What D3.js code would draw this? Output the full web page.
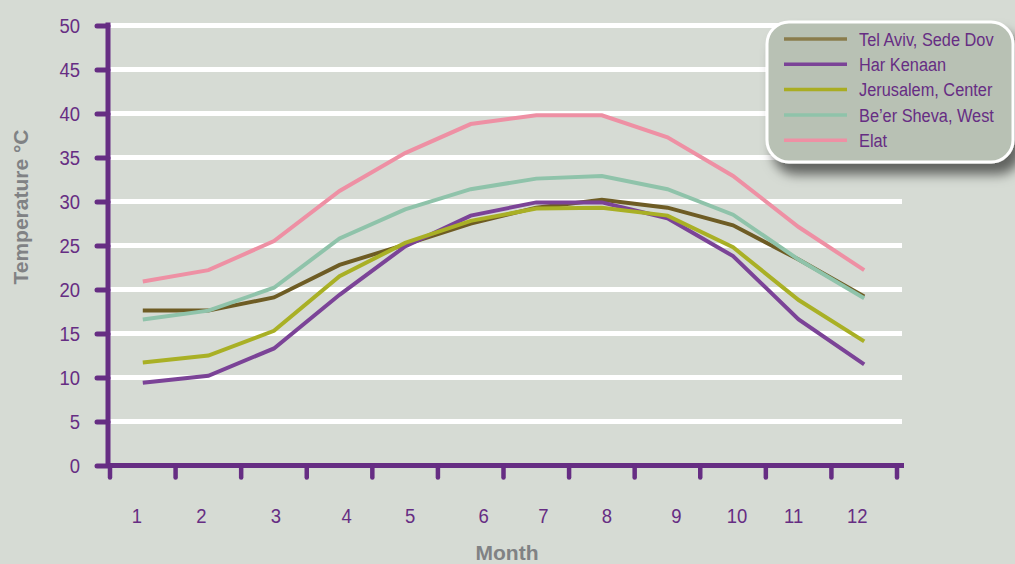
<!DOCTYPE html>
<html>
<head>
<meta charset="utf-8">
<script src="https://cdn.jsdelivr.net/npm/d3@7"></script>
<style>
  html, body { margin: 0; padding: 0; background: #d6dbd4; }
  svg { display: block; }
</style>
</head>
<body>
<svg id="chart" width="1015" height="564"></svg>
<script>
// ---- data ----
const months = [1, 2, 3, 4, 5, 6, 7, 8, 9, 10, 11, 12];
const yTicks = [0, 5, 10, 15, 20, 25, 30, 35, 40, 45, 50];
const seriesNames = ["Tel Aviv, Sede Dov", "Har Kenaan", "Jerusalem, Center", "Be\u2019er Sheva, West", "Elat"];
const telAviv   = [17.6, 17.6, 19.1, 22.8, 25.1, 27.5, 29.3, 30.2, 29.3, 27.3, 23.4, 19.2];
const harKenaan = [9.4, 10.2, 13.3, 19.4, 24.9, 28.4, 29.9, 29.9, 28.1, 23.8, 16.6, 11.5];
const jerusalem = [11.7, 12.5, 15.3, 21.5, 25.3, 27.8, 29.2, 29.3, 28.4, 24.8, 18.8, 14.1];
const beerSheva = [16.6, 17.6, 20.2, 25.8, 29.1, 31.4, 32.6, 32.9, 31.4, 28.5, 23.4, 19.0];
const elat      = [20.9, 22.2, 25.5, 31.2, 35.5, 38.8, 39.8, 39.8, 37.3, 32.9, 27.1, 22.2];
const seriesValues = [telAviv, harKenaan, jerusalem, beerSheva, elat];

// ---- style / layout ----
const colors = ["#6e5c24", "#7b4397", "#a9b025", "#8fc3aa", "#ee90a4"];
const legendColors = ["#8a7c4c", "#7b4397", "#a9ad22", "#8fc3aa", "#ee90a4"];
const purple = "#662d83";
const gray = "#808284";
const labelFont = "'Liberation Sans', Arial, sans-serif";
const titleFont = "'Liberation Sans', Arial, sans-serif";
const squeeze = 0.88; // condensed look of the original labels
const monthLabelNudge = [-6, -7, 2, 7, 5, 13, 7, 5, 9, 4, -5, -7];

const svg = d3.select("#chart");

const x = d3.scaleBand().domain(months).range([110, 897]).padding(0);
const y = d3.scaleLinear().domain([0, 50]).range([465.5, 25.5]);
const cx = m => x(m) + x.bandwidth() / 2;

// shadow filter
const defs = svg.append("defs");
const f = defs.append("filter").attr("id", "shadow")
  .attr("x", "-20%").attr("y", "-20%").attr("width", "150%").attr("height", "160%");
f.append("feDropShadow").attr("dx", 7).attr("dy", 11).attr("stdDeviation", 6)
  .attr("flood-color", "#000").attr("flood-opacity", 0.55);

// grid lines
svg.append("g").selectAll("line")
  .data(yTicks.filter(v => v > 0))
  .join("line")
  .attr("x1", 110).attr("x2", 902)
  .attr("y1", d => y(d)).attr("y2", d => y(d))
  .attr("stroke", "#ffffff").attr("stroke-width", 5);

// series lines
const line = d3.line().x((d, i) => cx(months[i])).y(d => y(d));
svg.append("g").selectAll("path")
  .data(seriesValues)
  .join("path")
  .attr("d", d => line(d))
  .attr("fill", "none")
  .attr("stroke", (d, i) => colors[i])
  .attr("stroke-width", 4)
  .attr("stroke-linejoin", "miter");

// y axis
const yAxis = svg.append("g")
  .attr("transform", "translate(108,0)")
  .call(d3.axisLeft(y).tickValues(yTicks).tickSize(11).tickPadding(17).tickSizeOuter(0));
yAxis.select(".domain").remove();
yAxis.selectAll(".tick line").attr("stroke", purple).attr("stroke-width", 5).attr("stroke-linecap", "round");
yAxis.selectAll(".tick text")
  .attr("fill", purple)
  .attr("x", -28 / squeeze)
  .attr("transform", `scale(${squeeze},1)`)
  .style("font-family", labelFont).style("font-size", "21px");
svg.append("line").attr("x1", 108).attr("x2", 108).attr("y1", y(50) - 3).attr("y2", y(0) + 2.5)
  .attr("stroke", purple).attr("stroke-width", 5);

// x axis
svg.append("line").attr("x1", 106).attr("x2", 904).attr("y1", y(0)).attr("y2", y(0))
  .attr("stroke", purple).attr("stroke-width", 5);
const boundaries = months.map(m => x(m)).concat([x(12) + x.bandwidth()]);
svg.append("g").selectAll("line")
  .data(boundaries)
  .join("line")
  .attr("x1", d => d).attr("x2", d => d)
  .attr("y1", y(0)).attr("y2", y(0) + 12)
  .attr("stroke", purple).attr("stroke-width", 4.5).attr("stroke-linecap", "round");
const xAxis = svg.append("g")
  .attr("transform", `translate(0,${y(0)})`)
  .call(d3.axisBottom(x).tickSize(0).tickPadding(43));
xAxis.select(".domain").remove();
xAxis.selectAll(".tick text")
  .attr("fill", purple)
  .attr("transform", (d, i) => `translate(${monthLabelNudge[i]},0) scale(${squeeze},1)`)
  .style("font-family", labelFont).style("font-size", "21px");

// axis titles
svg.append("text")
  .attr("transform", "translate(28,207) rotate(-90)")
  .attr("text-anchor", "middle")
  .attr("fill", gray)
  .style("font-family", titleFont).style("font-weight", "bold").style("font-size", "21px")
  .text("Temperature \u00B0C");
svg.append("text")
  .attr("x", 507).attr("y", 560)
  .attr("text-anchor", "middle")
  .attr("fill", gray)
  .style("font-family", titleFont).style("font-weight", "bold").style("font-size", "21px")
  .text("Month");

// legend
const lg = svg.append("g");
lg.append("rect")
  .attr("x", 767).attr("y", 22).attr("width", 246).attr("height", 140).attr("rx", 22).attr("ry", 22)
  .attr("fill", "#b8c1b4").attr("stroke", "#ffffff").attr("stroke-width", 3)
  .attr("filter", "url(#shadow)");
const items = lg.selectAll("g.item").data(seriesNames).join("g").attr("class", "item")
  .attr("transform", (d, i) => `translate(0,${39 + i * 25.3})`);
items.append("line").attr("x1", 784).attr("x2", 847).attr("y1", 0).attr("y2", 0)
  .attr("stroke", (d, i) => legendColors[i]).attr("stroke-width", 3.5);
items.append("text")
  .attr("transform", `translate(859,0) scale(0.86,1)`)
  .attr("dy", "0.35em")
  .attr("fill", purple)
  .style("font-family", labelFont).style("font-size", "19px")
  .text(d => d);
</script>
</body>
</html>
